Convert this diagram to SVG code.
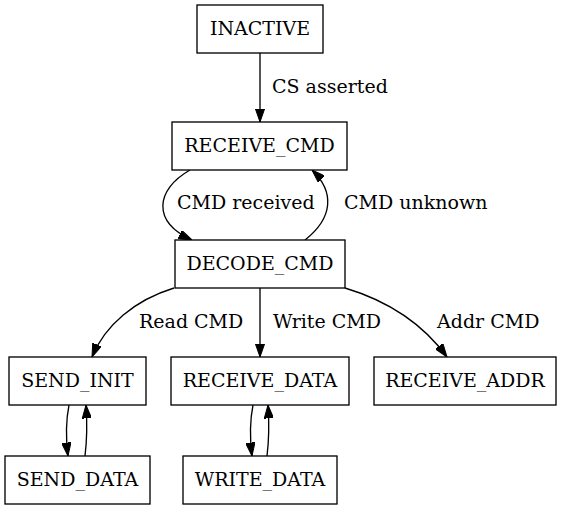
<svg xmlns="http://www.w3.org/2000/svg" width="563" height="509" viewBox="0 0 563 509">
<style>
.n rect{fill:#fff;stroke:#000;stroke-width:1.33}
text{font-family:"DejaVu Serif","Liberation Serif",serif;font-size:19px;fill:#000}
.n text{text-anchor:middle}
#edges path{fill:none;stroke:#000;stroke-width:1.33;marker-end:url(#ah)}
</style>
<defs>
<marker id="ah" viewBox="0 0 13.33 9.33" refX="13.33" refY="4.67" markerWidth="13.33" markerHeight="9.33" markerUnits="userSpaceOnUse" orient="auto"><path d="M0,0 L13.33,4.67 L0,9.33 z" fill="#000" stroke="#000" stroke-width="1"/></marker>
</defs>
<rect width="563" height="509" fill="#fff"/>
<g id="edges">
<path d="M260,53 L260,122"/>
<path d="M190,170 C155,190 152,222 192,240"/>
<path d="M305,240 C333,218 335,192 312,170"/>
<path d="M174,288 C135,300 105,325 92,357"/>
<path d="M260,288 L260,357"/>
<path d="M345,288 C385,300 420,320 447,357"/>
<path d="M69,405 C66,420 66,440 68,456"/>
<path d="M85,456 C87,440 87,420 86,405"/>
<path d="M253,405 C250,420 250,440 252,456"/>
<path d="M267,456 C269,440 269,420 268,405"/>
<text x="272" y="93">CS asserted</text>
<text x="177" y="209">CMD received</text>
<text x="344" y="209">CMD unknown</text>
<text x="139" y="328">Read CMD</text>
<text x="273" y="328">Write CMD</text>
<text x="437" y="328">Addr CMD</text>
</g>
<g id="INACTIVE" class="n"><rect x="197" y="5" width="126" height="48"/><text x="260" y="35">INACTIVE</text></g>
<g id="RECEIVE_CMD" class="n"><rect x="172" y="122" width="175" height="48"/><text x="259.5" y="152">RECEIVE_CMD</text></g>
<g id="DECODE_CMD" class="n"><rect x="175" y="240" width="170" height="48"/><text x="260" y="270">DECODE_CMD</text></g>
<g id="SEND_INIT" class="n"><rect x="9" y="357" width="137" height="48"/><text x="77.5" y="387">SEND_INIT</text></g>
<g id="RECEIVE_DATA" class="n"><rect x="171" y="357" width="178" height="48"/><text x="260" y="387">RECEIVE_DATA</text></g>
<g id="RECEIVE_ADDR" class="n"><rect x="374" y="357" width="182" height="48"/><text x="465" y="387">RECEIVE_ADDR</text></g>
<g id="SEND_DATA" class="n"><rect x="5" y="456" width="145" height="48"/><text x="77.5" y="486">SEND_DATA</text></g>
<g id="WRITE_DATA" class="n"><rect x="183" y="456" width="154" height="48"/><text x="260" y="486">WRITE_DATA</text></g>
</svg>
